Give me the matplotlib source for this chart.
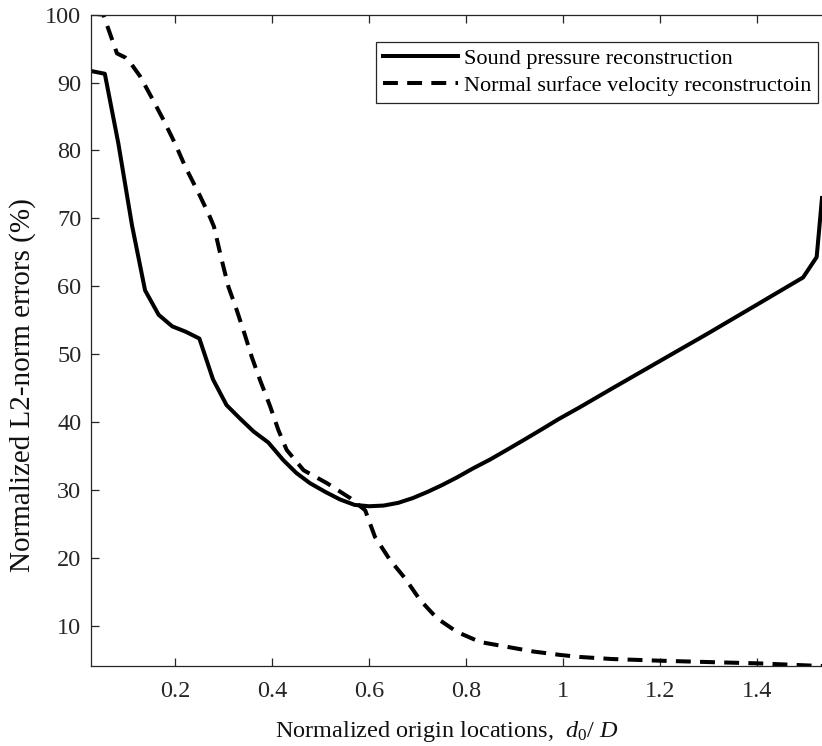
import matplotlib
matplotlib.use("Agg")
import matplotlib.pyplot as plt

plt.rcParams['font.family'] = ['Liberation Serif', 'DejaVu Serif']
plt.rcParams['mathtext.fontset'] = 'custom'
plt.rcParams['mathtext.rm'] = 'Liberation Serif'
plt.rcParams['mathtext.it'] = 'Liberation Serif:italic'

# normalized origin location d0/D and L2-norm errors (%)
x_pressure = [0.027, 0.055, 0.083, 0.111, 0.138, 0.166, 0.194, 0.222, 0.250, 0.278,
              0.306, 0.334, 0.362, 0.392, 0.423, 0.450, 0.478, 0.510, 0.540, 0.570,
              0.600, 0.630, 0.660, 0.690, 0.720, 0.750, 0.780, 0.815, 0.850, 0.884,
              0.920, 0.953, 0.990, 1.035, 1.100, 1.200, 1.300, 1.400, 1.495, 1.523,
              1.534]
err_pressure = [91.7, 91.3, 81.0, 69.0, 59.4, 55.8, 54.1, 53.3, 52.3, 46.3,
                42.5, 40.5, 38.6, 37.0, 34.4, 32.5, 31.0, 29.7, 28.6, 27.8,
                27.6, 27.7, 28.1, 28.8, 29.7, 30.7, 31.8, 33.2, 34.5, 35.9,
                37.4, 38.8, 40.4, 42.2, 44.9, 49.0, 53.1, 57.3, 61.3, 64.3,
                73.0]

x_velocity = [0.027, 0.052, 0.080, 0.097, 0.111, 0.128, 0.150, 0.176, 0.200, 0.221,
              0.250, 0.270, 0.280, 0.296, 0.310, 0.327, 0.344, 0.358, 0.375, 0.396,
              0.413, 0.430, 0.465, 0.513, 0.561, 0.592, 0.612, 0.643, 0.674, 0.705,
              0.740, 0.781, 0.829, 0.884, 0.939, 0.994, 1.035, 1.100, 1.200, 1.300,
              1.406, 1.515, 1.534]
err_velocity = [100.2, 100.0, 94.3, 93.7, 92.6, 90.9, 88.0, 84.5, 81.0, 77.6,
                73.5, 70.5, 68.8, 63.9, 59.9, 56.5, 52.8, 49.6, 46.2, 42.3,
                38.8, 35.9, 32.9, 31.0, 28.8, 27.0, 23.1, 19.7, 17.0, 13.8,
                11.1, 9.1, 7.6, 6.9, 6.2, 5.7, 5.4, 5.1, 4.85, 4.65,
                4.45, 4.12, 4.07]

xticks = [0.2, 0.4, 0.6, 0.8, 1.0, 1.2, 1.4]
xtick_labels = ['0.2', '0.4', '0.6', '0.8', '1', '1.2', '1.4']
yticks = [10, 20, 30, 40, 50, 60, 70, 80, 90, 100]

fig = plt.figure(figsize=(8.22, 7.46), dpi=100)
ax = fig.add_axes([91 / 822, 80 / 746, 731 / 822, 651.3 / 746])

ax.plot(x_pressure, err_pressure, color='black', lw=2.9,
        label='Sound pressure reconstruction')
ax.plot(x_velocity, err_velocity, color='black', lw=2.9,
        linestyle=(0, (3.7, 2.3)),
        label='Normal surface velocity reconstructoin')

ax.set_xlim(0.0265, 1.534)
ax.set_ylim(4.07, 100)
ax.set_xticks(xticks)
ax.set_xticklabels(xtick_labels)
ax.set_yticks(yticks)

ax.spines['right'].set_visible(False)
for side in ['left', 'bottom', 'top']:
    ax.spines[side].set_linewidth(0.9)
    ax.spines[side].set_color('#262626')
ax.tick_params(axis='both', direction='in', length=5.5, width=0.9,
               labelsize=17.5, color='#262626', labelcolor='#262626')
ax.tick_params(axis='x', top=True, pad=11)
ax.tick_params(axis='y', right=False, pad=7)

leg = ax.legend(loc='upper right', bbox_to_anchor=(0.9945, 0.958),
                bbox_transform=ax.transAxes, borderaxespad=0,
                fontsize=16, handlelength=3.4, handletextpad=0.25,
                labelspacing=0.28, borderpad=0.3, fancybox=False,
                framealpha=1, edgecolor='#262626')
leg.get_frame().set_linewidth(0.9)

fig.text(447 / 822, 1 - 731 / 746, r'Normalized origin locations,  $d_0$/ $D$',
         ha='center', va='center', fontsize=17.5, color='#111111')
fig.text(23 / 822, 1 - 385 / 746, 'Normalized L2-norm errors (%)',
         ha='center', va='center', rotation=90, fontsize=21, color='#111111')

fig.savefig('out.png', dpi=100)
